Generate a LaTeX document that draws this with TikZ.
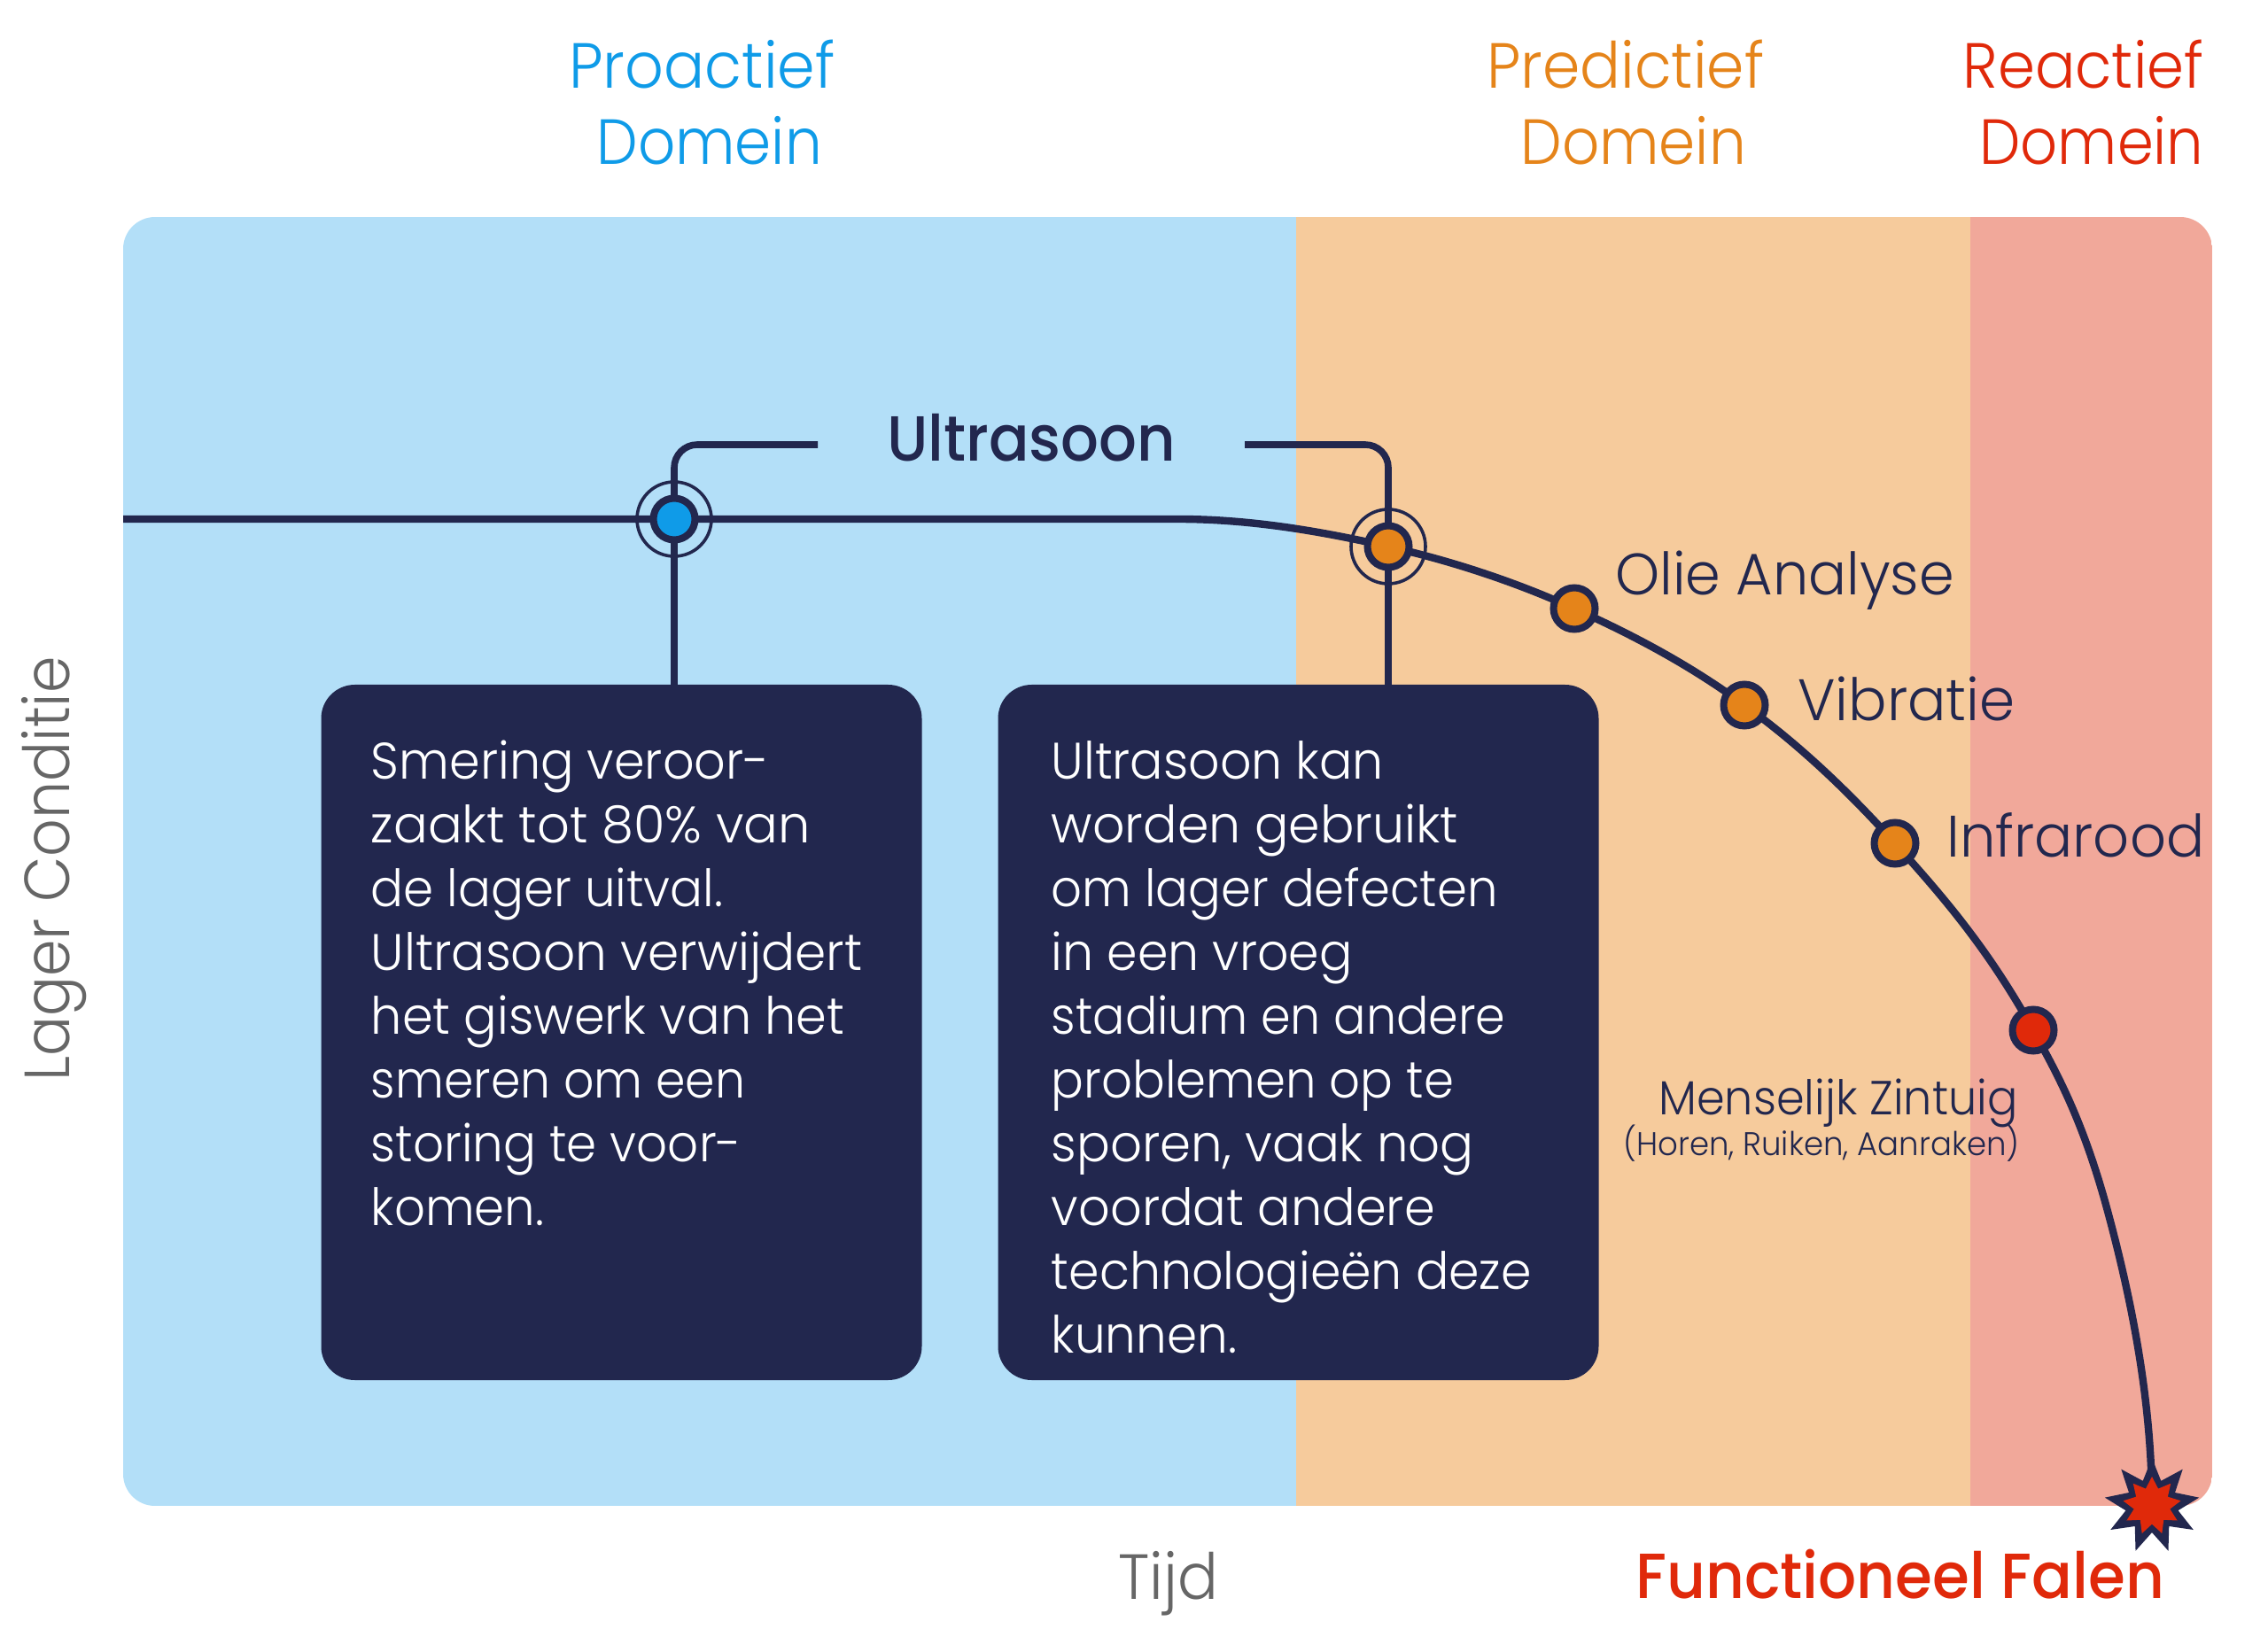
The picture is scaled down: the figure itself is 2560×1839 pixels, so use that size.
\documentclass[tikz,border=0pt]{standalone}
\usepackage{graphicx}
\usepackage{fontspec}
\setmainfont{Poppins Light}
\newfontfamily\popmed{Poppins Medium}
\newfontfamily\cardfont[FakeStretch=0.955]{Poppins Light}
\usetikzlibrary{shapes.geometric}
\definecolor{navy}{HTML}{22274E}
\definecolor{pblue}{HTML}{B3DFF8}
\definecolor{porange}{HTML}{F6CB9C}
\definecolor{pred}{HTML}{F1A89A}
\definecolor{cblue}{HTML}{0F9BE8}
\definecolor{corange}{HTML}{E5841A}
\definecolor{cred}{HTML}{E0290A}
\definecolor{cgray}{HTML}{666666}
\newcommand{\sx}[2]{\scalebox{#1}[1]{#2}}
\pgfdeclarelayer{bg}
\pgfdeclarelayer{conn}
\pgfsetlayers{bg,conn,main}
\tikzset{
  lbl/.style={inner sep=0pt,anchor=base west},
  head/.style={lbl,font=\fontsize{36}{36}\selectfont},
  meas/.style={lbl,text=navy,font=\fontsize{33}{33}\selectfont},
  dot/.style={circle,draw=navy,line width=4pt,minimum size=23.5pt,inner sep=0pt},
  ring/.style={circle,draw=navy,line width=1.8pt,minimum size=42pt,inner sep=0pt},
  card/.style={rectangle,fill=navy,rounded corners=19pt,minimum width=339pt,minimum height=392.5pt,inner sep=0pt},
  cardtext/.style={inner sep=0pt,anchor=north west,text=white,align=left,font=\fontsize{29}{36}\cardfont},
  curve/.style={draw=navy,line width=4.2pt},
  stem/.style={draw=navy,line width=3.8pt},
  bang/.style={star,star points=9,inner sep=0pt}
}
\begin{document}
\begin{tikzpicture}[x=0.5pt,y=-0.5pt]
\useasboundingbox (0,0) rectangle (2560,1839);
% panel
\begin{pgfonlayer}{bg}
\begin{scope}
\clip[rounded corners=18pt] (139,245) rectangle (2497,1700);
\fill[pblue] (139,245) rectangle (1463,1700);
\fill[porange] (1463,245) rectangle (2224,1700);
\fill[pred] (2224,245) rectangle (2497,1700);
\end{scope}
\end{pgfonlayer}
% headings
\node[head,text=cblue] (h1a) at (642,99.5) {\sx{0.95}{Proactief}};
\node[head,text=cblue] (h1b) at (673,185.5) {\sx{0.917}{Domein}};
\node[head,text=corange] (h2a) at (1678,99.5) {\sx{0.945}{Predictief}};
\node[head,text=corange] (h2b) at (1716,185.5) {\sx{0.917}{Domein}};
\node[head,text=cred] (h3a) at (2215,99.5) {\sx{0.9375}{Reactief}};
\node[head,text=cred] (h3b) at (2234,185.5) {\sx{0.912}{Domein}};
% axis labels
\node[head,text=cgray,rotate=90] (yl) at (78,1221) {\sx{0.926}{Lager Conditie}};
\node[head,text=cgray] (xl) at (1262,1805) {\sx{0.943}{Tijd}};
\node[lbl,text=cred,font=\fontsize{36}{36}\popmed] (ff) at (1846,1804) {\sx{0.94}{Functioneel Falen}};
% measures
\node[lbl,text=navy,font=\fontsize{36}{36}\popmed] (us) at (1001,520.5) {\sx{0.934}{Ultrasoon}};
\node[meas] (ol) at (1823,672) {\sx{0.965}{Olie Analyse}};
\node[meas] (vi) at (2029,813) {\sx{0.975}{Vibratie}};
\node[meas] (ir) at (2197,967) {\sx{0.97}{Infrarood}};
\node[lbl,text=navy,font=\fontsize{27}{27}\selectfont] (mz) at (1872,1258) {\sx{0.943}{Menselijk Zintuig}};
\node[lbl,text=navy,font=\fontsize{18.5}{18.5}\selectfont] (hr) at (1832,1304) {\sx{0.96}{(Horen, Ruiken, Aanraken)}};
% cards
\node[card] (c1) at (701.5,1165.5) {};
\node[card] (c2) at (1465.5,1165.5) {};
\node[cardtext] (t1) at (418.5,835.5) {\sx{1.004}{Smering veroor-}\\\sx{1.038}{zaakt tot 80\% van}\\\sx{0.988}{de lager uitval.}\\\sx{1.021}{Ultrasoon verwijdert}\\\sx{1.006}{het giswerk van het}\\\sx{0.97}{smeren om een}\\\sx{0.988}{storing te voor-}\\\sx{0.984}{komen.}};
\node[cardtext] (t2) at (1186.5,836) {Ultrasoon kan\\\sx{1.029}{worden gebruikt}\\\sx{0.984}{om lager defecten}\\in een vroeg\\\sx{0.975}{stadium en andere}\\\sx{0.985}{problemen op te}\\\sx{1.014}{sporen, vaak nog}\\\sx{1.007}{voordat andere}\\technologieën deze\\\sx{0.99}{kunnen.}};
% markers
\node[ring] (rb) at (761,586) {};
\node[ring] (ro) at (1567,617) {};
\node[dot,fill=cblue] (nb) at (761,586) {};
\node[dot,fill=corange] (no) at (1567,617) {};
\node[dot,fill=corange] (n1) at (1777,687) {};
\node[dot,fill=corange] (n2) at (1969,796) {};
\node[dot,fill=corange] (n3) at (2139,952) {};
\node[dot,fill=cred] (n4) at (2295,1163) {};
\node[bang,fill=navy,minimum size=54pt,star point ratio=1.8] (s1) at (2429,1700) {};
\node[bang,fill=cred,minimum size=33pt,star point ratio=1.6] (s2) at (2429,1700) {};
% connectors
\coordinate (start) at (139,586);
\coordinate (flat) at (1330,586);
\coordinate (bl) at (923,502);
\coordinate (br) at (1405,502);
\begin{pgfonlayer}{conn}
\draw[curve] (start) -- (flat)
  .. controls (1409,586) and (1488,599) .. (no.center)
  .. controls (1637,633) and (1707,655.5) .. (n1.center)
  .. controls (1841,716) and (1905,749) .. (n2.center)
  .. controls (2026,837) and (2082,888.5) .. (n3.center)
  .. controls (2191,1010) and (2243,1069) .. (n4.center)
  .. controls (2322,1212) and (2350,1263) .. (2377,1360)
  .. controls (2408,1473) and (2429,1587) .. (s1.center);
\draw[stem,rounded corners=13pt] (bl) -| (rb.center);
\draw[stem,rounded corners=13pt] (br) -| (ro.center);
\draw[stem] (rb.center) -- (rb.center |- c1.north);
\draw[stem] (ro.center) -- (ro.center |- c2.north);
\end{pgfonlayer}
\end{tikzpicture}
\end{document}
